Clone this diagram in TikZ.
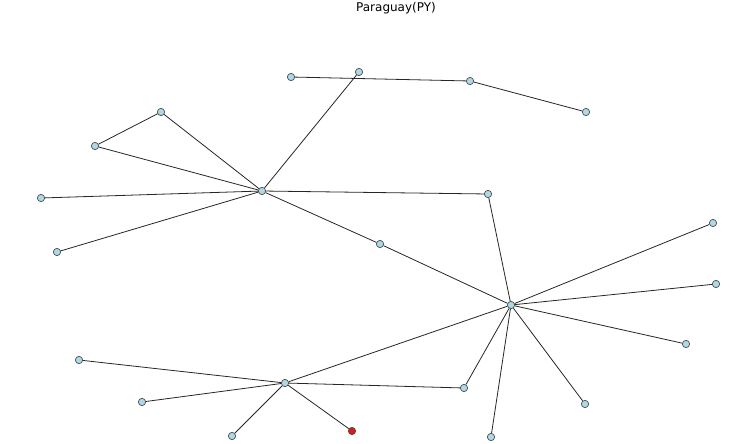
\documentclass[tikz,border=0pt]{standalone}
\usepackage{fontspec}
\setmainfont{DejaVu Sans}
\definecolor{nodeblue}{HTML}{ADD8E6}
\definecolor{nodered}{HTML}{DD1A1A}
\begin{document}
\begin{tikzpicture}[x=0.75pt,y=-0.75pt]
        \tikzstyle{airport}=[circle,draw=black!70,fill=nodeblue,line width=0.5pt,inner sep=0pt,minimum size=5.5pt]
        \tikzstyle{home}=[airport,fill=nodered]
        \tikzstyle{edge}=[draw,line width=0.6pt,black!85]
        \useasboundingbox (0,0) rectangle (750,443);
        \node[font=\fontsize{9}{11}\selectfont] (title) at (396,8) {Paraguay(PY)};
       \begin{scope}
         % hubs
         \node [airport] (asu) at (262,191) {};
         \node [airport] (agt) at (511,305) {};
         \node [airport] (enc) at (285,383) {};
         % top
         \node [airport] (t1) at (291,77) {};
         \node [airport] (t2) at (359,72) {};
         \node [airport] (t3) at (470,81) {};
         \node [airport] (t4) at (586,112) {};
         % left
         \node [airport] (l1) at (161,112) {};
         \node [airport] (l2) at (95,146) {};
         \node [airport] (l3) at (41,198) {};
         \node [airport] (l4) at (57,252) {};
         % middle
         \node [airport] (m1) at (488,194) {};
         \node [airport] (m2) at (380,244) {};
         % right
         \node [airport] (r1) at (713,223) {};
         \node [airport] (r2) at (716,284) {};
         \node [airport] (r3) at (686,344) {};
         \node [airport] (r4) at (585,404) {};
         \node [airport] (r5) at (491,437) {};
         \node [airport] (r6) at (464,388) {};
         % bottom
         \node [airport] (b1) at (79,360) {};
         \node [airport] (b2) at (142,402) {};
         \node [airport] (b3) at (232,436) {};
         \node [home] (b4) at (352,431) {};
         \begin{scope}[on background layer/.try]
         \path[edge] (t1) -- (t3);
         \path[edge] (t3) -- (t4);
         \path[edge] (t2) -- (asu);
         \path[edge] (l1) -- (l2);
         \path[edge] (l1) -- (asu);
         \path[edge] (l2) -- (asu);
         \path[edge] (l3) -- (asu);
         \path[edge] (l4) -- (asu);
         \path[edge] (asu) -- (m1);
         \path[edge] (m1) -- (agt);
         \path[edge] (asu) -- (m2);
         \path[edge] (m2) -- (agt);
         \path[edge] (agt) -- (r1);
         \path[edge] (agt) -- (r2);
         \path[edge] (agt) -- (r3);
         \path[edge] (agt) -- (r4);
         \path[edge] (agt) -- (r5);
         \path[edge] (agt) -- (r6);
         \path[edge] (agt) -- (enc);
         \path[edge] (enc) -- (r6);
         \path[edge] (enc) -- (b1);
         \path[edge] (enc) -- (b2);
         \path[edge] (enc) -- (b3);
         \path[edge] (enc) -- (b4);
         \end{scope}
        \end{scope}
\end{tikzpicture}
\end{document}
